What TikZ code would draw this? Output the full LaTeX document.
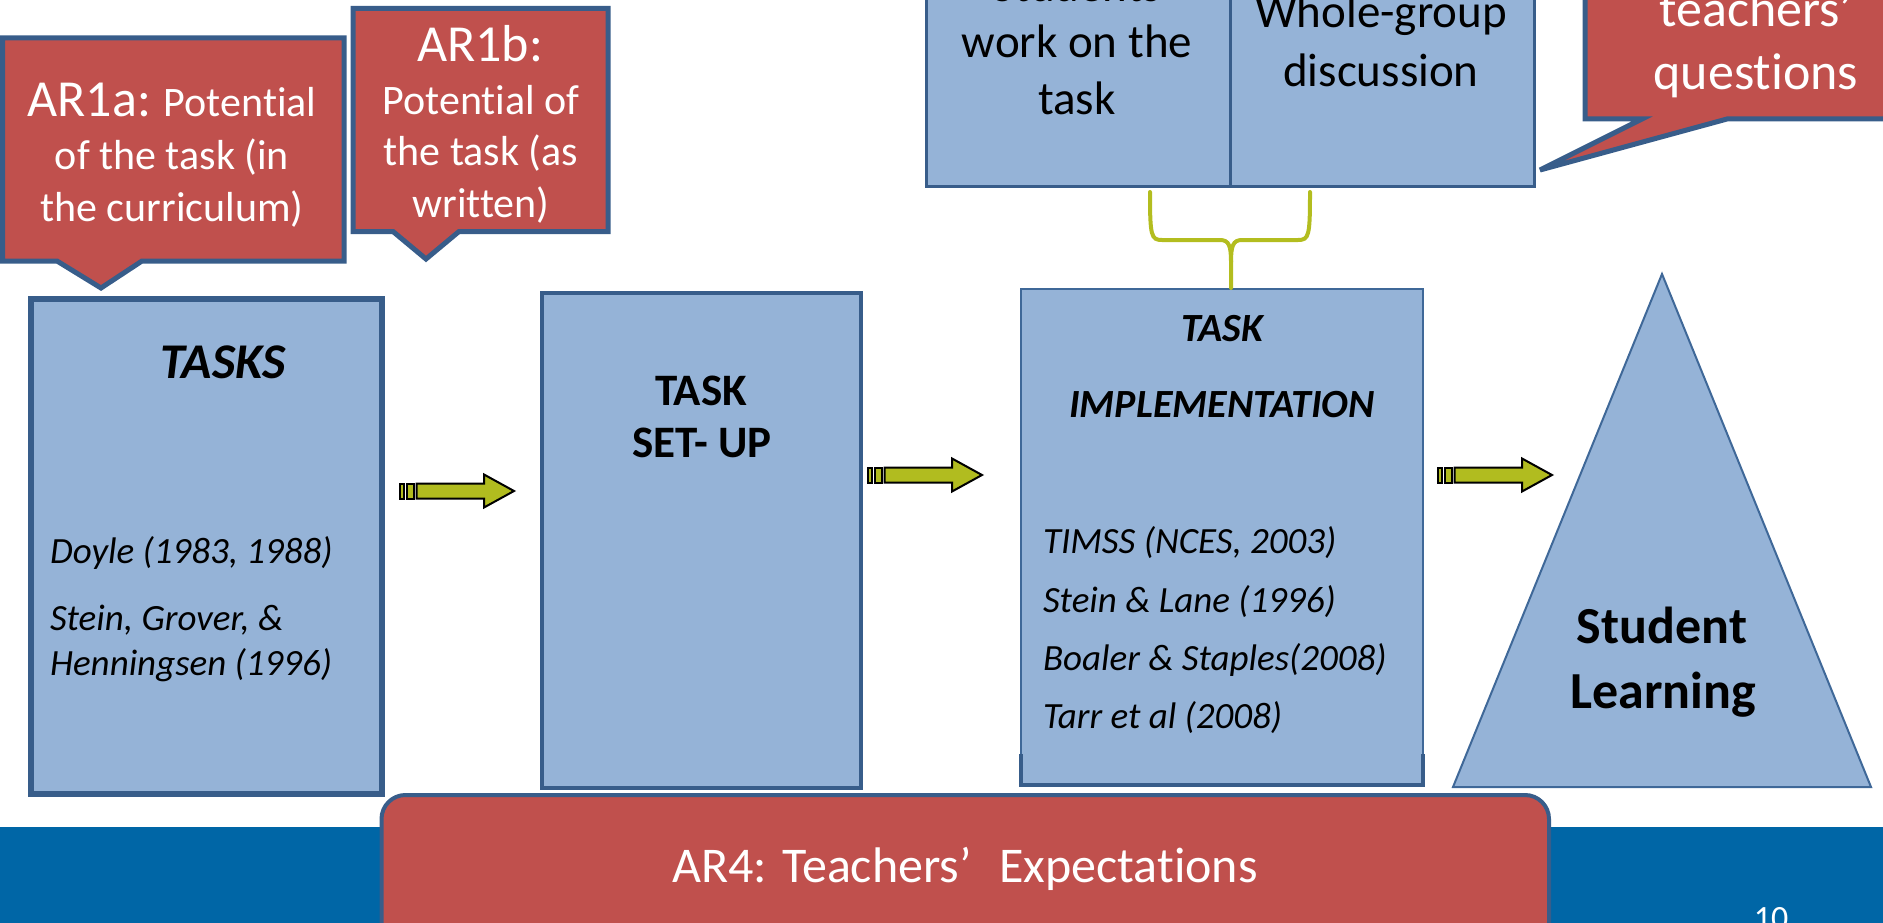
\documentclass[tikz,border=0pt]{standalone}
\usepackage{fontspec}
\setmainfont{Carlito}[Ligatures={NoCommon,NoContextual}]
\definecolor{boxblue}{HTML}{95B3D7}
\definecolor{edgeblue}{HTML}{385D8A}
\definecolor{thinblue}{HTML}{3F6898}
\definecolor{calred}{HTML}{C0504D}
\definecolor{barblue}{HTML}{0066A6}
\definecolor{arrowolive}{HTML}{B1BC1F}
\definecolor{braceolive}{HTML}{B3BD1F}
\newcommand\FS[1]{\fontsize{#1}{#1}\selectfont}
\newcommand\fatarrow[2]{%
  \begin{scope}[shift={(#1,#2)}]
    \draw[fatarr] (0,-7.5) rectangle (4,7.5);
    \draw[fatarr] (6.6,-7.5) rectangle (14,7.5);
    \draw[fatarr] (16.6,-7.5) -- (84,-7.5) -- (84,-16.5) -- (114,0) -- (84,16.5) -- (84,7.5) -- (16.6,7.5) -- cycle;
  \end{scope}}
\begin{document}
\begin{tikzpicture}[x=1pt,y=-1pt,
  txt/.style={inner sep=0pt, outer sep=0pt, anchor=base},
  ltxt/.style={inner sep=0pt, outer sep=0pt, anchor=base west},
  wtxt/.style={txt, text=white},
  bluebox/.style={draw=edgeblue, fill=boxblue, inner sep=0pt, outer sep=0pt},
  callout/.style={draw=edgeblue, fill=calred, line width=5pt, line join=miter},
  fatarr/.style={draw=black, fill=arrowolive, line width=2pt, line join=miter},
  bracestyle/.style={draw=braceolive, line width=4pt, line cap=round}]

\useasboundingbox (0,0) rectangle (1883,923);
\clip (0,0) rectangle (1883,923);

% bottom band
\fill[barblue] (0,826.5) rectangle (1883,923);

% main boxes
\node[bluebox, line width=6pt, minimum width=351pt, minimum height=495pt] (tasks) at (206,546.5) {};
\node[bluebox, line width=4pt, minimum width=319pt, minimum height=495pt] (setup) at (701.5,540.5) {};
\node[bluebox, draw=thinblue, line width=2pt, minimum width=402pt, minimum height=497pt] (impl) at (1222,537.5) {};
\draw[draw=edgeblue, line width=4pt] (1021,754) -- (1021,785) -- (1423,785) -- (1423,754);

% student learning triangle
\draw[draw=thinblue, fill=boxblue, line width=2pt, line join=miter] (1662,274) -- (1871,787) -- (1453,787) -- cycle;
\node[txt] (sl1) at (1662,643) {\FS{52}\bfseries Student};
\node[txt] (sl2) at (1663,708) {\FS{52}\bfseries Learning};

% top box
\node[bluebox, line width=3pt, minimum width=608pt, minimum height=256pt] (topbox) at (1230,58.5) {};
\draw[draw=edgeblue, line width=3pt] (topbox.north) -- (topbox.south);
\node[txt] (st1) at (1077,2) {\FS{47}Students};
\node[txt] (st2) at (1077,58) {\FS{47}work on the};
\node[txt] (st3) at (1077,115) {\FS{47}task};
\node[txt] (wg1) at (1381,28) {\FS{47}Whole-group};
\node[txt] (wg2) at (1381,87) {\FS{47}discussion};

% brace
\draw[bracestyle] (1150,192) .. controls (1150,236) and (1151,240) .. (1162,240) -- (1220,240)
  .. controls (1229,240) and (1231,246) .. (1231,262) -- (1231,288);
\draw[bracestyle] (1310,192) .. controls (1310,236) and (1309,240) .. (1298,240) -- (1242,240)
  .. controls (1233,240) and (1231,246) .. (1231,262);

% texts in boxes
\node[txt] (tt) at (223,378) {\FS{50}\bfseries\itshape TASKS};
\node[ltxt] (r1) at (50,563) {\FS{37}\itshape Doyle (1983, 1988)};
\node[ltxt] (r2) at (50,630) {\FS{37}\itshape Stein, Grover, \&};
\node[ltxt] (r3) at (50,675) {\FS{37}\itshape Henningsen (1996)};

\node[txt] (su1) at (701,405) {\FS{45}\bfseries TASK};
\node[txt] (su2) at (702,457) {\FS{45}\bfseries SET- UP};

\node[txt] (im1) at (1222,341) {\FS{40}\bfseries\itshape TASK};
\node[txt] (im2) at (1222,417) {\FS{40}\bfseries\itshape IMPLEMENTATION};
\node[ltxt] (i1) at (1043,553) {\FS{37}\itshape TIMSS (NCES, 2003)};
\node[ltxt] (i2) at (1043,612) {\FS{37}\itshape Stein \& Lane (1996)};
\node[ltxt] (i3) at (1043,670) {\FS{37}\itshape Boaler \& Staples(2008)};
\node[ltxt] (i4) at (1043,728) {\FS{37}\itshape Tarr et al (2008)};

% fat arrows
\fatarrow{400}{491}
\fatarrow{868}{475}
\fatarrow{1438}{475}

% callouts
\draw[callout] (2.5,38) -- (344,38) -- (344,261) -- (142,261) -- (101,288) -- (57,261) -- (2.5,261) -- cycle;
\node[wtxt] (a1) at (172,117) {{\FS{52}AR1a:}\hspace{13pt}{\FS{42}Potential}};
\node[wtxt] (a2) at (172,170) {\FS{42}of the task (in};
\node[wtxt] (a3) at (172,222) {\FS{42}the curriculum)};

\draw[callout] (353,8.5) -- (608,8.5) -- (608,231.5) -- (459,231.5) -- (426,259) -- (393,231.5) -- (353,231.5) -- cycle;
\node[wtxt] (b1) at (480,62) {\FS{52}AR1b:};
\node[wtxt] (b2) at (481,115) {\FS{42}Potential of};
\node[wtxt] (b3) at (481,166) {\FS{42}the task (as};
\node[wtxt] (b4) at (481,217) {\FS{42}written)};

\draw[callout] (1585,-60) -- (1930,-60) -- (1930,119) -- (1727,119) -- (1540,170) -- (1642,119) -- (1585,119) -- cycle;
\node[wtxt] (q1) at (1756,27) {\FS{52}teachers’};
\node[wtxt] (q2) at (1756,90) {\FS{52}questions};

% AR4
\node[draw=edgeblue, fill=calred, line width=4pt, rounded corners=24pt, inner sep=0pt,
  minimum width=1167.5pt, minimum height=185pt] (ar4) at (965.25,887.5) {};
\node[wtxt] (ar4t) at (965,882) {\FS{50}AR4: Teachers’\hspace{0.55em}Expectations};

\node[wtxt] (pg) at (1771,929) {\FS{34}10};
\end{tikzpicture}
\end{document}
